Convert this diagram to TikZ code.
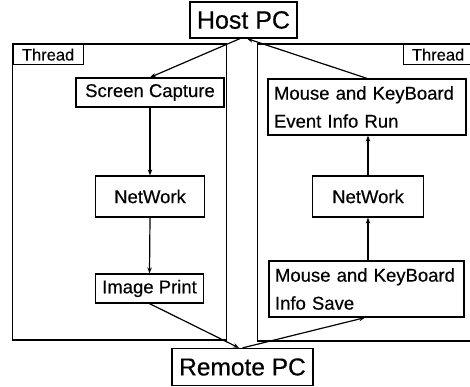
\documentclass[tikz,border=0pt]{standalone}
\usepackage{fontspec}
\setmainfont[FakeBold=0.4]{Liberation Sans}
\usetikzlibrary{arrows.meta}
\begin{document}
\begin{tikzpicture}[x=1pt,y=-1pt,
  line width=1.2pt,
  box/.style={draw,inner sep=0pt,minimum height=#1},
  body/.style={font=\fontsize{18.5}{28}\selectfont},
  pc/.style={draw,inner sep=0pt,font=\fontsize{25}{30}\selectfont},
  threadlbl/.style={draw,inner sep=0pt,minimum width=70,minimum height=20,font=\fontsize{16.5}{20}\selectfont},
  twoline/.style={draw,inner xsep=6pt,inner ysep=0pt,minimum height=56,align=left,
    font=\fontsize{18.5}{28}\selectfont},
  link/.style={-{Stealth[length=6pt,width=4.5pt]}}]
\useasboundingbox (0,0) rectangle (470,387);
\clip (0,0) rectangle (470,387);

% thread frames
\draw (12.5,44) rectangle (226.5,340);
\draw (257.5,44) rectangle (480,341);
\node[threadlbl,anchor=north west] (thL) at (12.5,44) {Thread};
\node[threadlbl,anchor=north west] (thR) at (402.5,44) {Thread};

% end points
\node[pc,minimum width=107,minimum height=36] (host) at (243.5,20) {Host PC};
\node[pc,minimum width=141,minimum height=37,font=\fontsize{24.5}{30}\selectfont] (remote) at (242.5,367) {Remote PC};

% left thread: screen to remote
\node[box=29,body,minimum width=148] (sc) at (150,92.5) {Screen Capture};
\node[box=41,body,minimum width=109] (netL) at (150,196.5) {NetWork};
\node[box=29,body,minimum width=108] (img) at (149.5,288.5) {Image Print};

% right thread: remote input to host
\node[twoline,text width=186] (run) at (367,107) {Mouse and KeyBoard\\Event Info Run};
\node[box=41,body,minimum width=111] (netR) at (368,196.5) {NetWork};
\node[twoline,text width=183] (save) at (366.5,289) {Mouse and KeyBoard\\Info Save};

% connectors
\draw[link] ([xshift=-3.5pt]host.south) -- (sc.north);
\draw[link] (sc.south) -- (netL.north);
\draw[link] (netL.south) -- (img.north);
\draw[link] (img.south) -- ([xshift=-3.5pt]remote.north);
\draw[link] (remote.north) -- ([xshift=-1.5pt]save.south);
\draw[link] (netR.south |- save.north) -- (netR.south);
\draw[link] (netR.north) -- (netR.north |- run.south);
\draw[link] (run.north) -- ([xshift=3.5pt]host.south);
\end{tikzpicture}
\end{document}
